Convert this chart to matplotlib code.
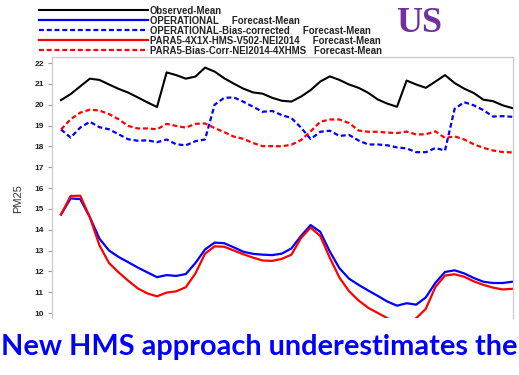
import matplotlib
matplotlib.use('Agg')
import matplotlib.pyplot as plt

# hourly means, forecast hour 0..47
hours = list(range(48))

observed = [20.22, 20.51, 20.88, 21.25, 21.19, 20.97, 20.76, 20.58, 20.35, 20.11,
            19.89, 21.55, 21.42, 21.25, 21.35, 21.78, 21.59, 21.27, 21.01, 20.77,
            20.59, 20.53, 20.33, 20.19, 20.15, 20.39, 20.70, 21.11, 21.36, 21.19,
            20.97, 20.81, 20.57, 20.25, 20.05, 19.90, 21.16, 20.97, 20.81, 21.11,
            21.42, 21.04, 20.77, 20.56, 20.24, 20.17, 19.97, 19.84]

operational = [14.73, 15.50, 15.47, 14.60, 13.57, 13.00, 12.69, 12.44, 12.18, 11.95,
               11.72, 11.82, 11.78, 11.87, 12.40, 13.05, 13.38, 13.35, 13.15, 12.94,
               12.84, 12.80, 12.78, 12.85, 13.10, 13.70, 14.22, 13.90, 12.95, 12.15,
               11.65, 11.35, 11.08, 10.82, 10.55, 10.35, 10.47, 10.40, 10.75, 11.45,
               11.97, 12.05, 11.90, 11.68, 11.50, 11.44, 11.44, 11.50]

operational_bc = [18.81, 18.42, 18.90, 19.18, 18.92, 18.82, 18.58, 18.34, 18.27, 18.29,
                  18.20, 18.33, 18.10, 18.05, 18.25, 18.33, 20.00, 20.33, 20.35, 20.14,
                  19.90, 19.66, 19.70, 19.50, 19.36, 18.90, 18.35, 18.70, 18.75, 18.50,
                  18.55, 18.28, 18.09, 18.09, 18.05, 17.95, 17.90, 17.72, 17.72, 17.92,
                  17.80, 19.80, 20.12, 19.97, 19.74, 19.43, 19.45, 19.42]

para5_hms = [14.73, 15.62, 15.63, 14.60, 13.25, 12.40, 11.95, 11.55, 11.18, 10.94,
             10.80, 10.98, 11.04, 11.24, 11.90, 12.85, 13.20, 13.18, 13.00, 12.82,
             12.66, 12.52, 12.50, 12.60, 12.80, 13.60, 14.10, 13.70, 12.65, 11.70,
             11.05, 10.60, 10.25, 10.00, 9.75, 9.55, 9.50, 9.75, 10.20, 11.25,
             11.80, 11.86, 11.74, 11.52, 11.35, 11.22, 11.13, 11.16]

para5_bc = [18.81, 19.30, 19.62, 19.76, 19.72, 19.55, 19.30, 18.98, 18.86, 18.86,
            18.82, 19.08, 18.98, 18.90, 19.08, 19.10, 18.88, 18.68, 18.47, 18.36,
            18.16, 18.01, 18.01, 18.00, 18.08, 18.30, 18.72, 19.18, 19.29, 19.29,
            19.12, 18.76, 18.70, 18.70, 18.66, 18.64, 18.71, 18.57, 18.58, 18.72,
            18.40, 18.48, 18.33, 18.10, 17.93, 17.80, 17.73, 17.71]

labels = ['Observed-Mean',
          'OPERATIONAL     Forecast-Mean',
          'OPERATIONAL-Bias-corrected     Forecast-Mean',
          'PARA5-4X1X-HMS-V502-NEI2014     Forecast-Mean',
          'PARA5-Bias-Corr-NEI2014-4XHMS   Forecast-Mean']

plt.rcParams['font.family'] = ['Liberation Sans', 'DejaVu Sans']

fig = plt.figure(figsize=(5.19, 3.75), dpi=100)
ax = fig.add_axes([0.1002, 0.152, 0.8882, 0.696])

dash = (0, (2.2, 1.3))
ax.plot(hours, observed, color='black', lw=1.5, label=labels[0])
ax.plot(hours, operational, color='#0000ff', lw=1.6, label=labels[1])
ax.plot(hours, operational_bc, color='#0000ff', lw=1.6, linestyle=dash, label=labels[2])
ax.plot(hours, para5_hms, color='#ff0000', lw=1.6, label=labels[3])
ax.plot(hours, para5_bc, color='#ff0000', lw=1.6, linestyle=dash, label=labels[4])

ax.set_xlim(-0.94, 47.08)
ax.set_ylim(9.76, 22.29)
ax.set_yticks(range(10, 23))
ax.set_xticks([])
ax.tick_params(axis='y', length=3, width=0.8, color='#999999', labelsize=6,
               labelcolor='#222222', pad=3)
for lab in ax.get_yticklabels():
    lab.set_fontweight('bold')
for side in ['left', 'top', 'right']:
    ax.spines[side].set_color('#cccccc')
    ax.spines[side].set_linewidth(0.9)
ax.spines['bottom'].set_visible(False)

fig.text(18 / 519, 1 - 199 / 375, 'PM25', rotation=90, ha='center', va='center',
         fontsize=8, color='#333333')

leg = fig.legend(loc='upper left', bbox_to_anchor=(32 / 519, 1 + 1 / 375),
                 frameon=False, fontsize=6.9, handlelength=11.4, handletextpad=0.2,
                 labelspacing=0.0, borderpad=0.2)
for t in leg.get_texts():
    t.set_fontweight('bold')
    t.set_color('#222222')

fig.text(396 / 519, 1 - 32 / 375, 'US', family=['Liberation Serif', 'DejaVu Serif'],
         fontsize=26, fontweight='bold', color='#7030a0', ha='left', va='baseline')

fig.text(0.001, 1 - 355 / 375, 'New HMS approach underestimates the',
         family=['Lato', 'DejaVu Sans'], fontsize=20.8, fontweight='bold',
         color='#0000ff', ha='left', va='baseline')

fig.savefig('out.png', dpi=100)
